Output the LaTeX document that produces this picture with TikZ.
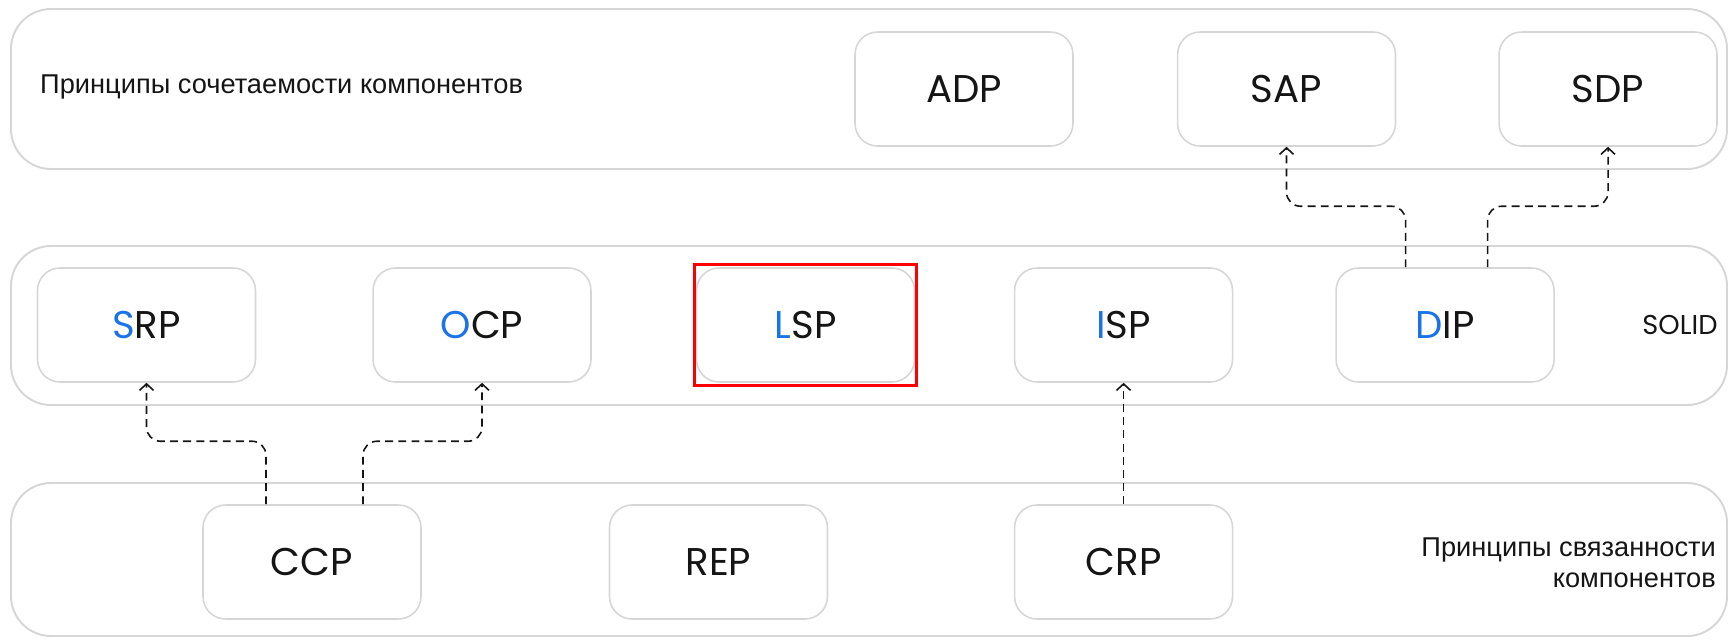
\documentclass[tikz,border=0pt]{standalone}
\usepackage{fontspec}
\setmainfont{Liberation Sans}
\newfontfamily\labelfont{Poppins}
\usepackage{tikz}
\usetikzlibrary{positioning,arrows.meta}
\definecolor{frame}{HTML}{D6D6D6}
\definecolor{solidblue}{HTML}{1A73E8}
\definecolor{ink}{HTML}{151515}
\newcommand{\hl}[1]{\textcolor{solidblue}{#1}}

\tikzset{
	band/.style={draw=frame, line width=1.1pt, rounded corners=0.8cm},
	pbox/.style={draw=frame, line width=0.9pt, rounded corners=0.45cm,
		minimum width=4.36cm, minimum height=2.28cm, text=ink,
		font=\labelfont\fontsize{22}{24}\selectfont},
	gtext/.style={text=ink, font=\fontsize{15.5}{17.6}\selectfont},
	dep/.style={-{Straight Barb[length=1.3mm,width=2.8mm]}, ink,
		dash pattern=on 4.5pt off 3pt, line width=0.9pt, rounded corners=0.28cm},
}

\begin{document}
\begin{tikzpicture}[x=0.02cm, y=-0.02cm]
	\useasboundingbox (0,0) rectangle (1728,640);
	
	% group frames
	\draw[band] (11,9) rectangle (1727,169);
	\draw[band] (11,246) rectangle (1727,405);
	\draw[band] (11,483) rectangle (1727,636);
	
	\node[gtext, anchor=west] (comb) at (34,87) {Принципы сочетаемости компонентов};
	\node[gtext, anchor=east, align=right] (coh) at (1722,563) {Принципы связанности\\компонентов};
	\node[text=ink, font=\labelfont\fontsize{15.5}{17}\selectfont] (solid) at (1680,325) {SOLID};
	
	% top row
	\node[pbox] (adp) at (964,89) {ADP};
	\node[pbox, right=2.06cm of adp] (sap) {SAP};
	\node[pbox, right=2.04cm of sap] (sdp) {SDP};
	
	% solid row
	\node[pbox] (srp) at (146.5,325) {\hl{S}RP};
	\node[pbox, right=2.32cm of srp] (ocp) {\hl{O}CP};
	\node[pbox, right=2.08cm of ocp] (lsp) {\hl{L}SP};
	\node[pbox, right=1.97cm of lsp] (isp) {\hl{I}SP};
	\node[pbox, right=2.04cm of isp] (dip) {\hl{D}IP};
	
	% bottom row
	\node[pbox] (ccp) at (312,562) {CCP};
	\node[pbox, right=3.74cm of ccp] (rep) {REP};
	\node[pbox] (crp) at (isp |- rep) {CRP};
	
	\draw[red, line width=1.7pt] ([shift={(-0.02cm,-0.05cm)}]lsp.south west) rectangle ([shift={(0.02cm,0.05cm)}]lsp.north east);
	
	% dependencies
	\draw[dep] ([xshift=-0.92cm]ccp.north) -- ++(0,1.26cm) -| (srp.south);
	\draw[dep] ([xshift=1.02cm]ccp.north) -- ++(0,1.26cm) -| (ocp.south);
	\draw[dep] (crp.north) -- (isp.south);
	\draw[dep] ([xshift=-0.79cm]dip.north) -- ++(0,1.22cm) -| (sap.south);
	\draw[dep] ([xshift=0.85cm]dip.north) -- ++(0,1.22cm) -| (sdp.south);
\end{tikzpicture}
\end{document}
